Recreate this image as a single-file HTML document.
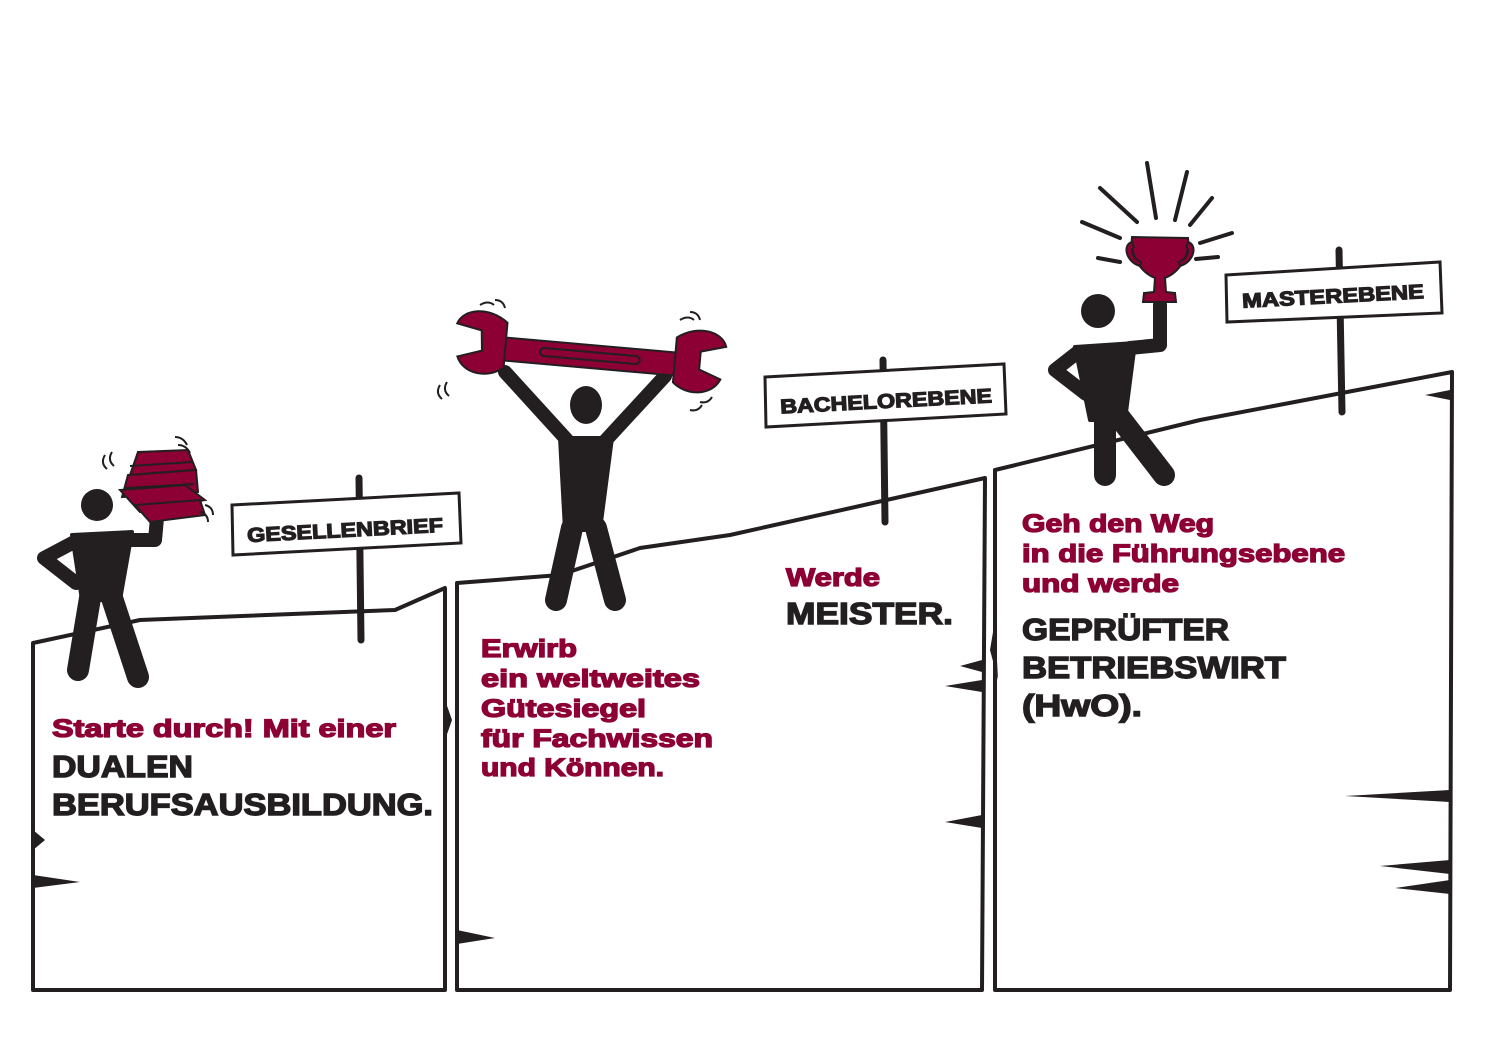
<!DOCTYPE html>
<html><head><meta charset="utf-8"><style>html,body{margin:0;padding:0;background:#fff}svg{display:block}</style></head><body>
<svg width="1500" height="1060" viewBox="0 0 1500 1060" xmlns="http://www.w3.org/2000/svg">
<g fill="none" stroke="#231f20" stroke-width="4" stroke-linejoin="round">
<path d="M33,643 L140,620 L395,610 L445,588 L445,990 L33,990 Z"/>
<path d="M457,583 L560,575 L640,548 L730,535 L985,478 L982,990 L457,990 Z"/>
<path d="M995,470 L1200,420 L1452,372 L1450,990 L995,990 Z"/>
</g>
<g fill="#231f20">
<path d="M33,875 L80,882 L33,888Z"/><path d="M33,830 L45,840 L33,850Z"/>
<path d="M457,930 L495,938 L457,944Z"/><path d="M445,700 L452,720 L445,740Z"/>
<path d="M982,660 L960,666 L982,672Z"/><path d="M982,680 L945,686 L982,692Z"/><path d="M982,815 L945,822 L982,828Z"/>
<path d="M1450,790 L1345,796 L1450,802Z"/><path d="M1450,860 L1380,866 L1450,874Z"/><path d="M1450,880 L1395,888 L1450,894Z"/>
<path d="M1450,390 L1425,395 L1450,400Z"/><path d="M995,620 L990,650 L998,680Z"/>
</g>
<g stroke="#231f20" stroke-width="7" stroke-linecap="round">
<line x1="359" y1="478" x2="361" y2="640"/>
<line x1="883" y1="360" x2="885" y2="522"/>
<line x1="1339" y1="250" x2="1342" y2="412"/>
</g>
<g fill="#fff" stroke="#231f20" stroke-width="3">
<polygon points="232,505 459,493 461,543 233,555"/>
<polygon points="765,377 1004,364 1006,414 766,427"/>
<polygon points="1226,275 1440,262 1442,313 1227,322"/>
</g>
<g font-family="Liberation Sans, sans-serif" font-weight="bold" fill="#231f20" stroke="#231f20" stroke-width="1.2" font-size="20">
<text x="247" y="537" textLength="196" lengthAdjust="spacingAndGlyphs" transform="rotate(-3 345 530)">GESELLENBRIEF</text>
<text x="780" y="408" textLength="212" lengthAdjust="spacingAndGlyphs" transform="rotate(-3 885 400)">BACHELOREBENE</text>
<text x="1242" y="303" textLength="182" lengthAdjust="spacingAndGlyphs" transform="rotate(-3 1333 296)">MASTEREBENE</text>
</g>
<g fill="#231f20" stroke="#231f20" stroke-linecap="round" stroke-linejoin="round">
<circle cx="97" cy="505" r="16" stroke="none"/>
<polygon points="72,535 132,532 120,600 82,600" stroke-width="4"/>
<polyline points="90,598 78,670" stroke-width="22" fill="none"/>
<polyline points="112,598 138,677" stroke-width="22" fill="none"/>
<polyline points="78,540 44,558 76,583" stroke-width="14" fill="none"/>
<polyline points="125,540 155,540 157,518" stroke-width="14" fill="none"/>
</g>
<g fill="#8c0034" stroke="#231f20" stroke-width="2">
<polygon points="138,452 188,450 196,470 130,475"/>
<polygon points="128,475 196,470 198,492 122,497"/>
<polygon points="120,490 185,485 205,500 140,512"/>
<polygon points="135,505 200,500 205,515 150,522"/>
<path d="M130,466 L192,462 M126,488 L194,484" fill="none"/>
</g>
<g stroke="#231f20" stroke-width="2" fill="none">
<path d="M105,455 q-5,8 2,14"/><path d="M112,452 q-5,8 2,14"/><path d="M175,437 q8,0 12,8"/><path d="M178,445 q8,0 12,8"/><path d="M200,512 q8,2 8,10"/><path d="M205,505 q8,2 8,10"/>
</g>
<g fill="#231f20" stroke="#231f20" stroke-linecap="round" stroke-linejoin="round">
<ellipse cx="586" cy="405" rx="16" ry="19" stroke="none"/>
<polygon points="560,438 612,438 600,530 565,530" stroke-width="4"/>
<polyline points="567,440 505,372" stroke-width="14" fill="none"/>
<polyline points="606,440 665,376" stroke-width="14" fill="none"/>
<polyline points="572,528 556,600" stroke-width="22" fill="none"/>
<polyline points="596,528 615,600" stroke-width="22" fill="none"/>
</g>
<g fill="#8c0034" stroke="#231f20" stroke-width="2" transform="rotate(5 590 355)">
<path d="M500,345 L680,345 L680,368 L500,368 Z"/>
<path d="M505,330 C485,315 460,320 455,335 L480,340 L482,360 L458,368 C465,385 490,388 505,375 Z"/>
<path d="M675,330 C695,315 720,320 725,335 L700,342 L700,360 L722,368 C715,385 690,388 675,375 Z"/>
<rect x="540" y="352" width="100" height="8" rx="4" fill="none"/>
</g>
<g stroke="#231f20" stroke-width="2" fill="none">
<path d="M440,385 q-5,8 2,14"/><path d="M447,382 q-5,8 2,14"/><path d="M480,305 q8,-5 14,0"/><path d="M495,300 q8,0 10,8"/><path d="M680,320 q8,-5 14,0"/><path d="M690,312 q8,0 10,8"/><path d="M690,410 q8,2 12,-5"/><path d="M700,402 q8,2 12,-5"/>
</g>
<g fill="#231f20" stroke="#231f20" stroke-linecap="round" stroke-linejoin="round">
<circle cx="1098" cy="311" r="17" stroke="none"/>
<polygon points="1075,347 1135,343 1125,420 1090,420" stroke-width="4"/>
<polyline points="1078,352 1055,370 1086,394" stroke-width="14" fill="none"/>
<polyline points="1130,348 1160,345 1160,305" stroke-width="14" fill="none"/>
<polyline points="1105,418 1105,475" stroke-width="22" fill="none"/>
<polyline points="1120,418 1164,475" stroke-width="22" fill="none"/>
</g>
<g fill="#8c0034" stroke="#231f20" stroke-width="2">
<path d="M1132,237 L1188,238 C1190,255 1180,272 1165,278 L1166,292 L1175,293 L1176,302 L1143,302 L1144,293 L1154,292 L1155,278 C1140,272 1130,255 1132,237 Z"/>
<path d="M1132,242 C1122,245 1126,262 1140,266 L1141,262 C1132,258 1130,250 1134,247 Z"/>
<path d="M1188,242 C1198,245 1194,262 1180,266 L1179,262 C1188,258 1190,250 1186,247 Z"/>
</g>
<g stroke="#231f20" stroke-width="4" stroke-linecap="round">
<line x1="1147" y1="163" x2="1156" y2="218"/><line x1="1187" y1="172" x2="1175" y2="220"/>
<line x1="1100" y1="188" x2="1137" y2="222"/><line x1="1212" y1="198" x2="1190" y2="225"/>
<line x1="1082" y1="222" x2="1120" y2="238"/><line x1="1232" y1="233" x2="1200" y2="243"/>
<line x1="1098" y1="258" x2="1120" y2="262"/><line x1="1196" y1="259" x2="1218" y2="257"/>
</g>
<g font-family="Liberation Sans, sans-serif" font-weight="bold">
<g fill="#8c0034" stroke="#8c0034" stroke-width="1.3" font-size="25">
<text x="52" y="737" textLength="344" lengthAdjust="spacingAndGlyphs">Starte durch! Mit einer</text>
<text x="481" y="657" textLength="96" lengthAdjust="spacingAndGlyphs">Erwirb</text>
<text x="481" y="687" textLength="219" lengthAdjust="spacingAndGlyphs">ein weltweites</text>
<text x="481" y="717" textLength="165" lengthAdjust="spacingAndGlyphs">Gütesiegel</text>
<text x="481" y="747" textLength="232" lengthAdjust="spacingAndGlyphs">für Fachwissen</text>
<text x="481" y="776" textLength="183" lengthAdjust="spacingAndGlyphs">und Können.</text>
<text x="786" y="586" textLength="94" lengthAdjust="spacingAndGlyphs">Werde</text>
<text x="1022" y="532" textLength="192" lengthAdjust="spacingAndGlyphs">Geh den Weg</text>
<text x="1022" y="562" textLength="323" lengthAdjust="spacingAndGlyphs">in die Führungsebene</text>
<text x="1022" y="592" textLength="157" lengthAdjust="spacingAndGlyphs">und werde</text>
</g>
<g fill="#231f20" stroke="#231f20" stroke-width="1.4" font-size="31">
<text x="52" y="777" textLength="141" lengthAdjust="spacingAndGlyphs">DUALEN</text>
<text x="52" y="815" textLength="381" lengthAdjust="spacingAndGlyphs">BERUFSAUSBILDUNG.</text>
<text x="786" y="624" textLength="167" lengthAdjust="spacingAndGlyphs">MEISTER.</text>
<text x="1022" y="640" textLength="207" lengthAdjust="spacingAndGlyphs">GEPRÜFTER</text>
<text x="1022" y="678" textLength="264" lengthAdjust="spacingAndGlyphs">BETRIEBSWIRT</text>
<text x="1022" y="716" textLength="120" lengthAdjust="spacingAndGlyphs">(HwO).</text>
</g>
</g>
</svg>
</body></html>
